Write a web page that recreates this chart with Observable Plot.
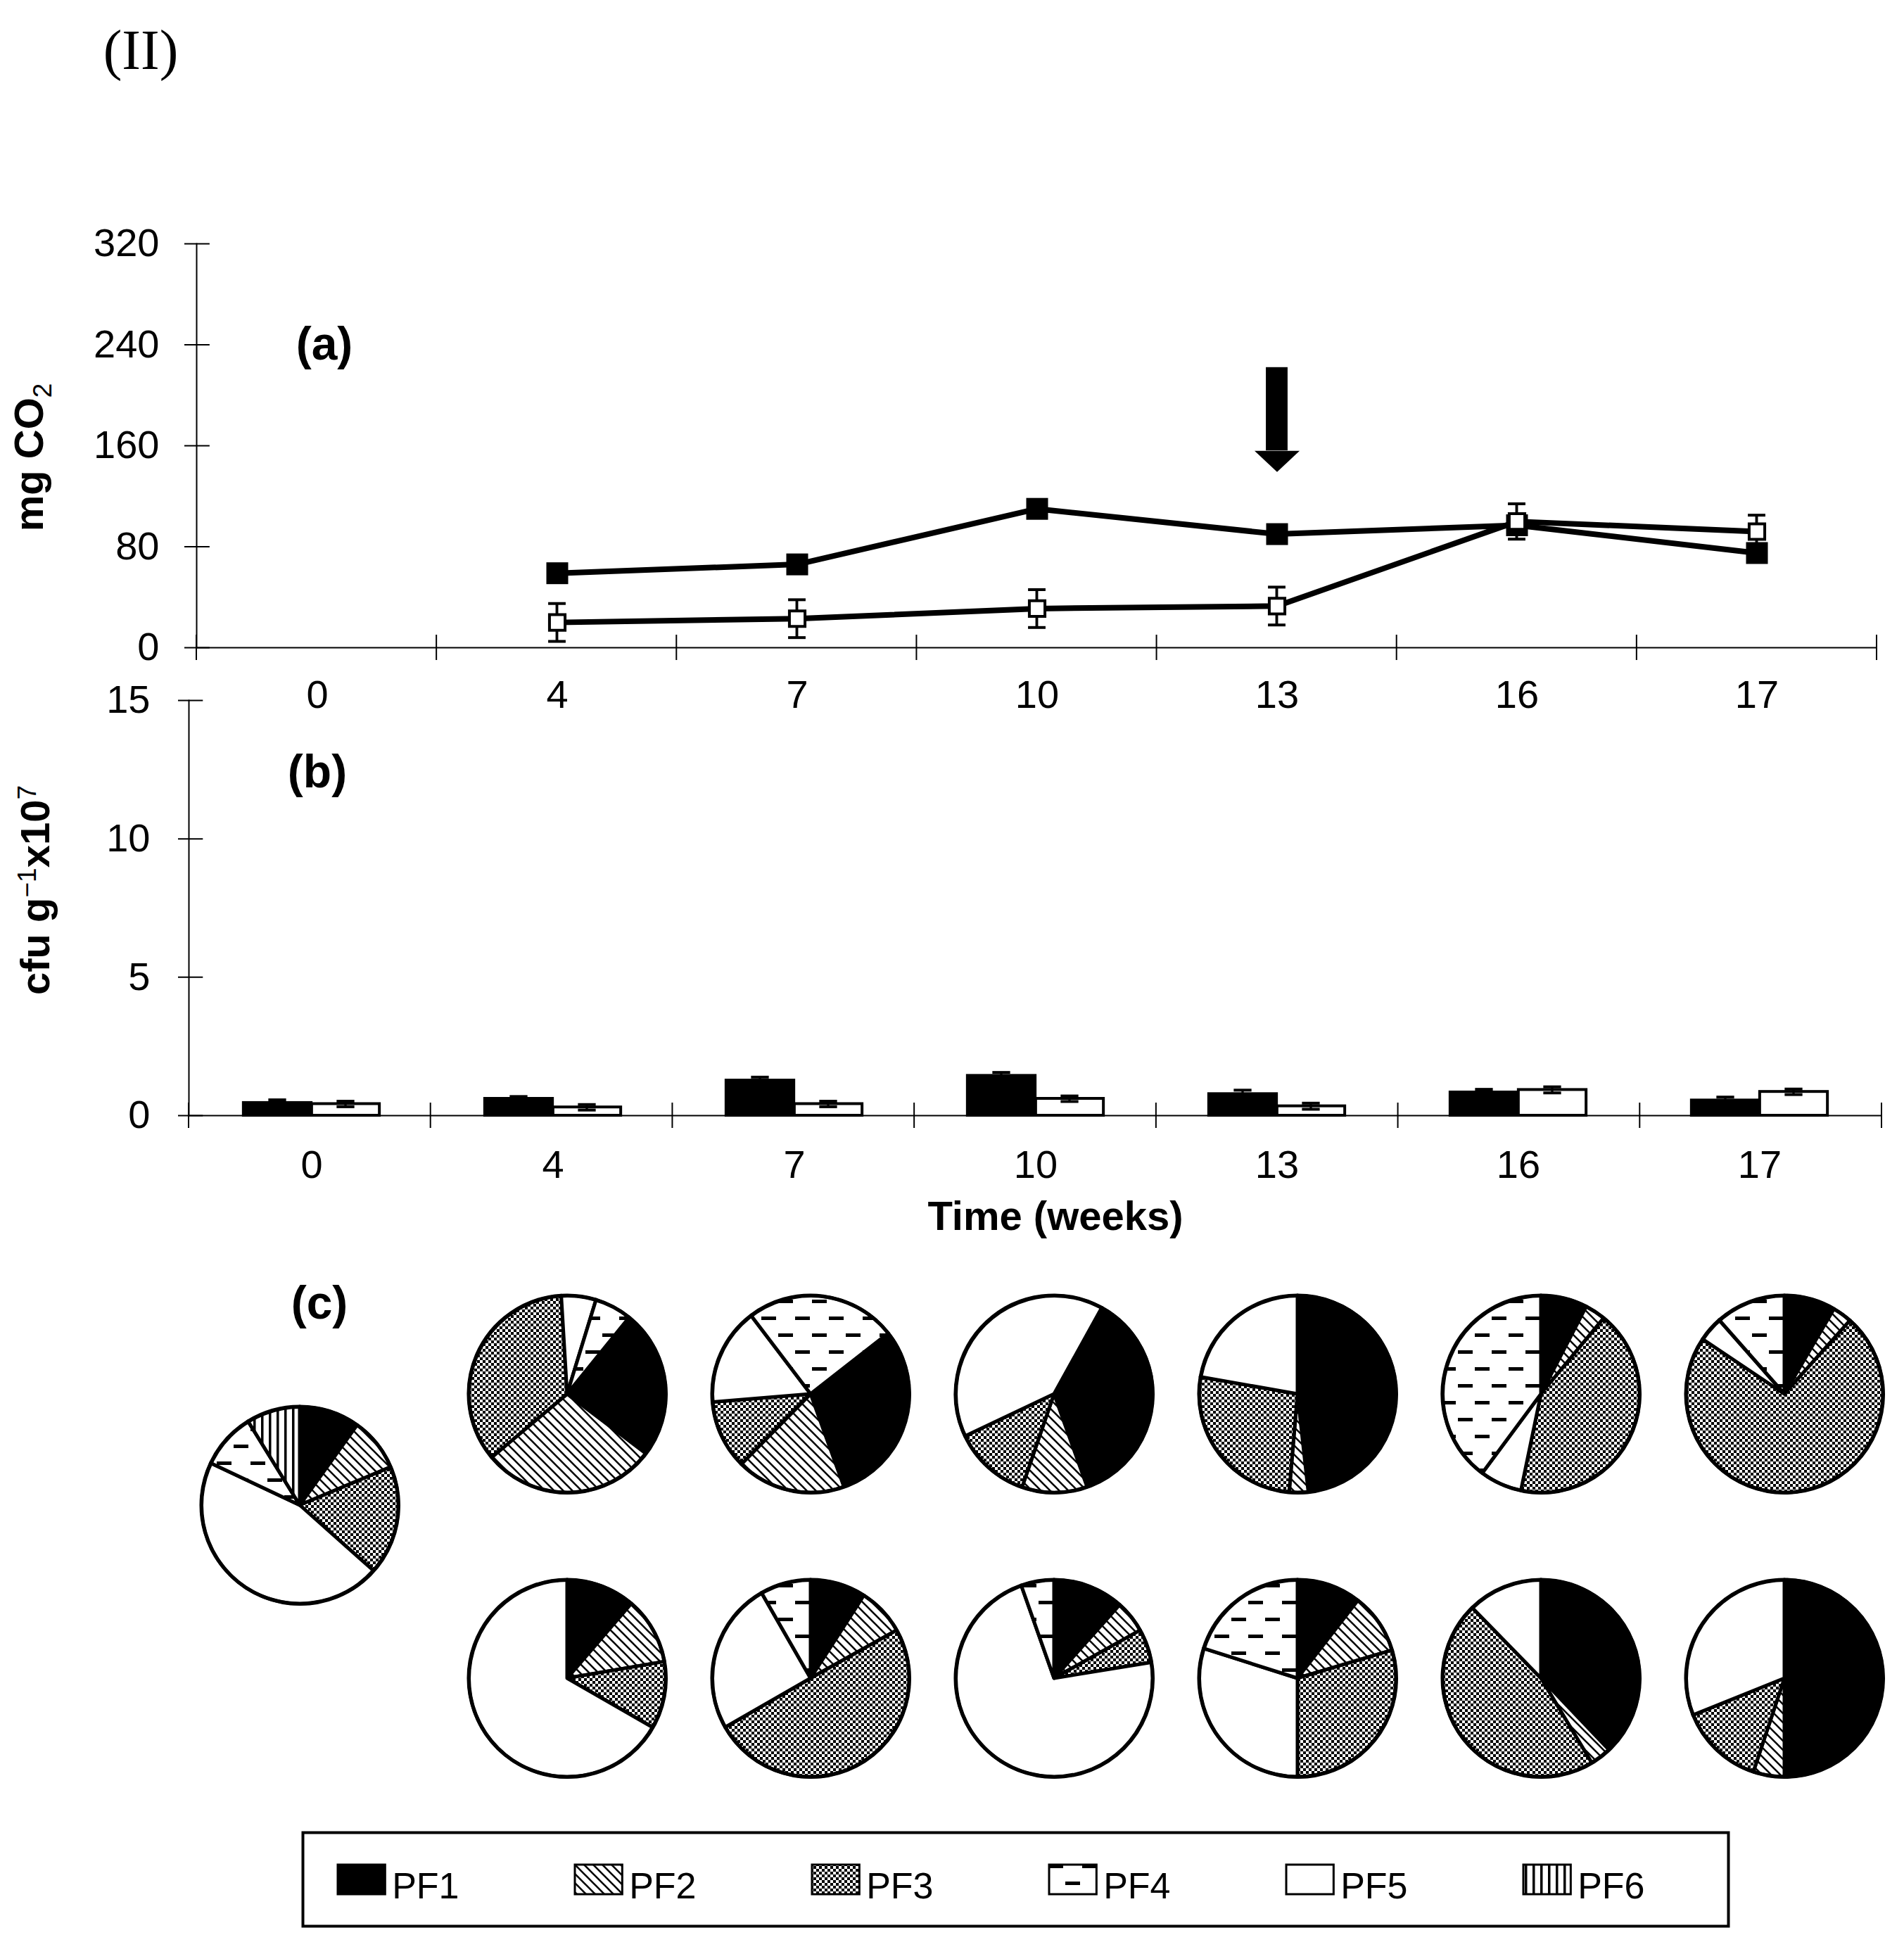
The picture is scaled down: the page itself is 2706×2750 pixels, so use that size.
<!DOCTYPE html>
<html>
<head>
<meta charset="utf-8">
<script src="https://cdn.jsdelivr.net/npm/d3@7"></script>
<script src="https://cdn.jsdelivr.net/npm/@observablehq/plot@0.6"></script>
<style>
  body { margin: 0; background: white; }
  #fig { position: relative; width: 2706px; height: 2750px; background: white; }
  #fig svg { position: absolute; left: 0; top: 0; }
</style>
</head>
<body>
<!-- fill patterns for the PF groups -->
<svg width="0" height="0" style="position:absolute">
  <defs>
    <pattern id="pf2" patternUnits="userSpaceOnUse" width="13" height="13">
      <rect width="13" height="13" fill="white"/>
      <path d="M-3,-3L16,16M-3,10L3,16M10,-3L16,3" stroke="black" stroke-width="2.6"/>
    </pattern>
    <pattern id="pf3" patternUnits="userSpaceOnUse" width="8" height="8">
      <rect width="8" height="8" fill="white"/>
      <rect width="4" height="4" fill="black"/>
      <rect x="4" y="4" width="4" height="4" fill="black"/>
    </pattern>
    <pattern id="pf4" patternUnits="userSpaceOnUse" width="48" height="48">
      <rect width="48" height="48" fill="white"/>
      <rect x="2" y="10" width="21" height="5" fill="black"/>
      <rect x="26" y="34" width="21" height="5" fill="black"/>
    </pattern>
    <pattern id="pf6" patternUnits="userSpaceOnUse" width="11" height="11">
      <rect width="11" height="11" fill="white"/>
      <rect width="3.5" height="11" fill="black"/>
    </pattern>
  </defs>
</svg>
<div id="fig"></div>
<script>
const weeks = ["0", "4", "7", "10", "13", "16", "17"];

// (a) mg CO2, no reading at week 0
const co2Weeks = ["4", "7", "10", "13", "16", "17"];
const co2Filled = [59, 66, 110, 90, 97, 75];
const co2FilledErr = [3, 3, 3, 3, 4, 3];
const co2Open = [20, 23, 31, 33, 100, 92];
const co2OpenErr = [15, 15, 15, 15, 14, 13];
const co2Ticks = [0, 80, 160, 240, 320];

// arrow drawn over week 13 (in mg CO2 units)
const arrowWeek = "13";
const arrowTop = 222;
const arrowBase = 156;

// (b) cfu g-1 x10^7
const cfuFilled = [0.46, 0.61, 1.27, 1.44, 0.78, 0.84, 0.55];
const cfuFilledErr = [0.11, 0.08, 0.12, 0.12, 0.14, 0.11, 0.12];
const cfuOpen = [0.42, 0.30, 0.42, 0.61, 0.34, 0.93, 0.86];
const cfuOpenErr = [0.10, 0.10, 0.10, 0.10, 0.11, 0.11, 0.10];
const cfuTicks = [0, 5, 10, 15];

// (c) share of each PF group (%), one pie per entry
const pfNames = ["PF1", "PF2", "PF3", "PF4", "PF5", "PF6"];
const pieOrder = ["PF1", "PF2", "PF3", "PF5", "PF4", "PF6"];
const pieWeeks = ["0", "4", "7", "10", "13", "16", "17", "4", "7", "10", "13", "16", "17"];
const pieRows = ["initial", "A", "A", "A", "A", "A", "A", "B", "B", "B", "B", "B", "B"];
const pf1 = [9.9, 24.5, 30.1, 36.5, 48.2, 7.6, 8.4, 11.3, 9.1, 11.6, 10.5, 37.9, 50.0];
const pf2 = [8.8, 28.6, 17.9, 10.7, 3.1, 3.4, 3.2, 11.0, 7.8, 5.3, 9.9, 3.5, 5.1];
const pf3 = [17.9, 35.2, 11.3, 12.7, 26.4, 42.2, 72.8, 11.0, 49.8, 5.5, 29.6, 46.3, 13.8];
const pf4 = [9.2, 6.1, 24.8, 0, 0, 39.8, 11.5, 0, 8.3, 5.4, 20.1, 0, 0];
const pf5 = [45.5, 5.7, 16.0, 40.1, 22.2, 6.9, 4.1, 66.7, 25.0, 72.1, 29.9, 12.3, 31.1];
const pf6 = [8.8, 0, 0, 0, 0, 0, 0, 0, 0, 0, 0, 0, 0];
const pieStart = [0, 39, 52, 29, 0, 0, 0, 0, 0, 0, 0, 0, 0]; // degrees, first slice

const pfShares = {PF1: pf1, PF2: pf2, PF3: pf3, PF4: pf4, PF5: pf5, PF6: pf6};
const pfFill = {PF1: "black", PF2: "url(#pf2)", PF3: "url(#pf3)", PF4: "url(#pf4)", PF5: "white", PF6: "url(#pf6)"};

/* layout */
const W = 2706, H = 2750;
const boxA = {left: 279, right: 2667, top: 346, bottom: 920};
const boxB = {left: 268, right: 2674, top: 995, bottom: 1585};
const boxC = {left: 459, right: 2537, top: 1980, bottom: 2385};
const boxL = {left: 430, right: 2456, top: 2604, bottom: 2737};
const tickLen = 18;
const pieRadius = 140;
const initialShift = {dx: -34, dy: -44}; // the week-0 pie sits a little off the grid
const baseStyle = {
  background: "transparent",
  overflow: "visible",
  fontFamily: "'Liberation Sans', Arial, sans-serif",
  fontSize: "56px",
  color: "black"
};

function margins(box) {
  return {marginLeft: box.left, marginRight: W - box.right, marginTop: box.top, marginBottom: H - box.bottom};
}

// horizontal insets that leave a strip of width w centred at offset c from the band centre
function strip(bw, w, c = 0) {
  return {insetLeft: bw / 2 + c - w / 2, insetRight: bw / 2 - c - w / 2};
}

// ticks at the band edges, crossing the x axis
function edgeTicks(index, {x, y}) {
  const [r0, r1] = x.range();
  const n = x.domain().length;
  const g = d3.create("svg:g").attr("stroke", "black").attr("stroke-width", 2);
  for (let i = 0; i <= n; i++) {
    const px = r0 + (r1 - r0) * i / n;
    g.append("line").attr("x1", px).attr("x2", px).attr("y1", y(0) - tickLen).attr("y2", y(0) + tickLen);
  }
  return g.node();
}

/* (a) */
let rowsA = co2Weeks.map((w, i) => ({
  week: w, filled: co2Filled[i], filledErr: co2FilledErr[i], open: co2Open[i], openErr: co2OpenErr[i]
}));
let arrow = [{week: arrowWeek, top: arrowTop, base: arrowBase}];
const bwA = (boxA.right - boxA.left) / weeks.length;

let plotA = Plot.plot({
  width: W, height: H, ...margins(boxA),
  style: baseStyle,
  x: {type: "band", domain: weeks, padding: 0},
  y: {domain: [0, 320]},
  marks: [
    Plot.frame({anchor: "left", strokeWidth: 2}),
    Plot.ruleY([0], {strokeWidth: 2}),
    Plot.tickY(co2Ticks, {y: d => d, x: d => weeks[0], insetLeft: -tickLen, insetRight: bwA - tickLen, strokeWidth: 2}),
    Plot.axisY({ticks: co2Ticks, tickSize: 0, tickPadding: 53, label: null}),
    Plot.axisX({tickSize: 0, tickPadding: 46, label: null}),
    edgeTicks,
    // arrow
    Plot.barY(arrow, {x: "week", y1: "top", y2: "base", ...strip(bwA, 31), fill: "black"}),
    Plot.vector(arrow, {x: "week", y: "base", rotate: 180, length: 30, r: 32, shape: "spike", anchor: "start", fill: "black", stroke: "none"}),
    // filled squares
    Plot.line(rowsA, {x: "week", y: "filled", stroke: "black", strokeWidth: 8}),
    Plot.barY(rowsA, {x: "week", y1: d => d.filled - d.filledErr, y2: d => d.filled + d.filledErr, ...strip(bwA, 4), fill: "black"}),
    Plot.tickY(rowsA, {x: "week", y: d => d.filled + d.filledErr, ...strip(bwA, 25), strokeWidth: 4}),
    Plot.tickY(rowsA, {x: "week", y: d => d.filled - d.filledErr, ...strip(bwA, 25), strokeWidth: 4}),
    Plot.dot(rowsA, {x: "week", y: "filled", symbol: "square", r: 17.5, fill: "black", stroke: "none"}),
    // open squares
    Plot.line(rowsA, {x: "week", y: "open", stroke: "black", strokeWidth: 8}),
    Plot.barY(rowsA, {x: "week", y1: d => d.open - d.openErr, y2: d => d.open + d.openErr, ...strip(bwA, 4), fill: "black"}),
    Plot.tickY(rowsA, {x: "week", y: d => d.open + d.openErr, ...strip(bwA, 25), strokeWidth: 4}),
    Plot.tickY(rowsA, {x: "week", y: d => d.open - d.openErr, ...strip(bwA, 25), strokeWidth: 4}),
    Plot.dot(rowsA, {x: "week", y: "open", symbol: "square", r: 12.5, fill: "white", stroke: "black", strokeWidth: 4})
  ]
});

/* (b) */
let rowsB = weeks.map((w, i) => ({
  week: w, filled: cfuFilled[i], filledErr: cfuFilledErr[i], open: cfuOpen[i], openErr: cfuOpenErr[i]
}));
const bwB = (boxB.right - boxB.left) / weeks.length;
const barW = 97;
const capW = 26;

let plotB = Plot.plot({
  width: W, height: H, ...margins(boxB),
  style: baseStyle,
  x: {type: "band", domain: weeks, padding: 0},
  y: {domain: [0, 15]},
  marks: [
    Plot.frame({anchor: "left", strokeWidth: 2}),
    Plot.ruleY([0], {strokeWidth: 2}),
    Plot.tickY(cfuTicks, {y: d => d, x: d => weeks[0], insetLeft: -tickLen, insetRight: bwB - tickLen, strokeWidth: 2}),
    Plot.axisY({ticks: cfuTicks, tickSize: 0, tickPadding: 55, label: null}),
    Plot.axisX({tickSize: 0, tickPadding: 49, label: null}),
    edgeTicks,
    Plot.barY(rowsB, {x: "week", y: "filled", fill: "black", stroke: "black", strokeWidth: 4, ...strip(bwB, barW, -barW / 2)}),
    Plot.barY(rowsB, {x: "week", y: "open", fill: "white", stroke: "black", strokeWidth: 4, ...strip(bwB, barW, barW / 2)}),
    // error bars
    Plot.barY(rowsB, {x: "week", y1: d => d.filled - d.filledErr, y2: d => d.filled + d.filledErr, ...strip(bwB, 4, -barW / 2), fill: "black"}),
    Plot.tickY(rowsB, {x: "week", y: d => d.filled + d.filledErr, ...strip(bwB, capW, -barW / 2), strokeWidth: 4}),
    Plot.barY(rowsB, {x: "week", y1: d => d.open - d.openErr, y2: d => d.open + d.openErr, ...strip(bwB, 4, barW / 2), fill: "black"}),
    Plot.tickY(rowsB, {x: "week", y: d => d.open + d.openErr, ...strip(bwB, capW, barW / 2), strokeWidth: 4}),
    Plot.tickY(rowsB, {x: "week", y: d => d.open - d.openErr, ...strip(bwB, capW, barW / 2), strokeWidth: 4})
  ]
});

/* (c) pies */
const pieIndex = d3.range(pieWeeks.length);

function pieSlices(index, {x, y}) {
  const g = d3.create("svg:g").attr("stroke", "black").attr("stroke-width", 5).attr("stroke-linejoin", "round");
  const arc = d3.arc().innerRadius(0).outerRadius(pieRadius);
  pieIndex.forEach(i => {
    const shift = pieRows[i] === "initial" ? initialShift : {dx: 0, dy: 0};
    const a0 = pieStart[i] * Math.PI / 180;
    const slices = d3.pie().sort(null).value(k => pfShares[k][i])
      .startAngle(a0).endAngle(a0 + 2 * Math.PI)(pieOrder)
      .filter(d => d.value > 0);
    g.append("g")
      .attr("transform", `translate(${x(pieWeeks[i]) + shift.dx},${y(pieRows[i]) + shift.dy})`)
      .selectAll("path")
      .data(slices)
      .join("path")
      .attr("d", arc)
      .attr("fill", d => pfFill[d.data]);
  });
  return g.node();
}

const ringStyle = {x: i => pieWeeks[i], y: i => pieRows[i], r: pieRadius, fill: "none", stroke: "black", strokeWidth: 5};

let plotC = Plot.plot({
  width: W, height: H, ...margins(boxC),
  style: baseStyle,
  x: {type: "point", domain: weeks, padding: 0, axis: null},
  y: {type: "point", domain: ["A", "initial", "B"], padding: 0, axis: null},
  marks: [
    pieSlices,
    Plot.dot(pieIndex.filter(i => pieRows[i] !== "initial"), ringStyle),
    Plot.dot(pieIndex.filter(i => pieRows[i] === "initial"), {...ringStyle, ...initialShift})
  ]
});

/* legend */
const bwL = (boxL.right - boxL.left) / pfNames.length;
let plotL = Plot.plot({
  width: W, height: H, ...margins(boxL),
  style: baseStyle,
  x: {type: "band", domain: pfNames, padding: 0, axis: null},
  color: {type: "identity"},
  marks: [
    Plot.frame({strokeWidth: 4}),
    Plot.cell(pfNames, {x: d => d, fill: d => pfFill[d], stroke: "black", strokeWidth: 3,
      insetLeft: 48, insetRight: bwL - 48 - 68, insetTop: 46, insetBottom: 45}),
    Plot.text(pfNames, {x: d => d, text: d => d, textAnchor: "start", dx: -bwL / 2 + 125, dy: 10, fontSize: 52})
  ]
});

let fig = d3.select("#fig");
[plotA, plotB, plotC, plotL].forEach(p => fig.append(() => p));

/* titles and labels */
let ann = d3.select(plotA).append("g")
  .attr("font-family", "'Liberation Sans', Arial, sans-serif")
  .attr("fill", "black");

ann.append("text").attr("x", 200).attr("y", 98)
  .attr("font-family", "'Liberation Serif', 'Times New Roman', serif")
  .attr("font-size", 80).text("(II)");

[["(a)", 461, 511], ["(b)", 451, 1119], ["(c)", 454, 1874]].forEach(([t, px, py]) => {
  ann.append("text").attr("x", px).attr("y", py).attr("text-anchor", "middle")
    .attr("font-weight", "bold").attr("font-size", 66).text(t);
});

let labA = ann.append("text").attr("transform", "translate(61,650) rotate(-90)")
  .attr("text-anchor", "middle").attr("font-weight", "bold").attr("font-size", 58);
labA.append("tspan").text("mg CO");
labA.append("tspan").attr("font-size", 37).attr("font-weight", "normal").attr("dy", 12).text("2");

let labB = ann.append("text").attr("transform", "translate(70,1265) rotate(-90)")
  .attr("text-anchor", "middle").attr("font-weight", "bold").attr("font-size", 58);
labB.append("tspan").text("cfu g");
labB.append("tspan").attr("font-size", 37).attr("font-weight", "normal").attr("dy", -19).text("\u22121");
labB.append("tspan").attr("dy", 19).text("x10");
labB.append("tspan").attr("font-size", 37).attr("font-weight", "normal").attr("dy", -19).text("7");

ann.append("text").attr("x", 1500).attr("y", 1748).attr("text-anchor", "middle")
  .attr("font-weight", "bold").attr("font-size", 58).text("Time (weeks)");
</script>
</body>
</html>
